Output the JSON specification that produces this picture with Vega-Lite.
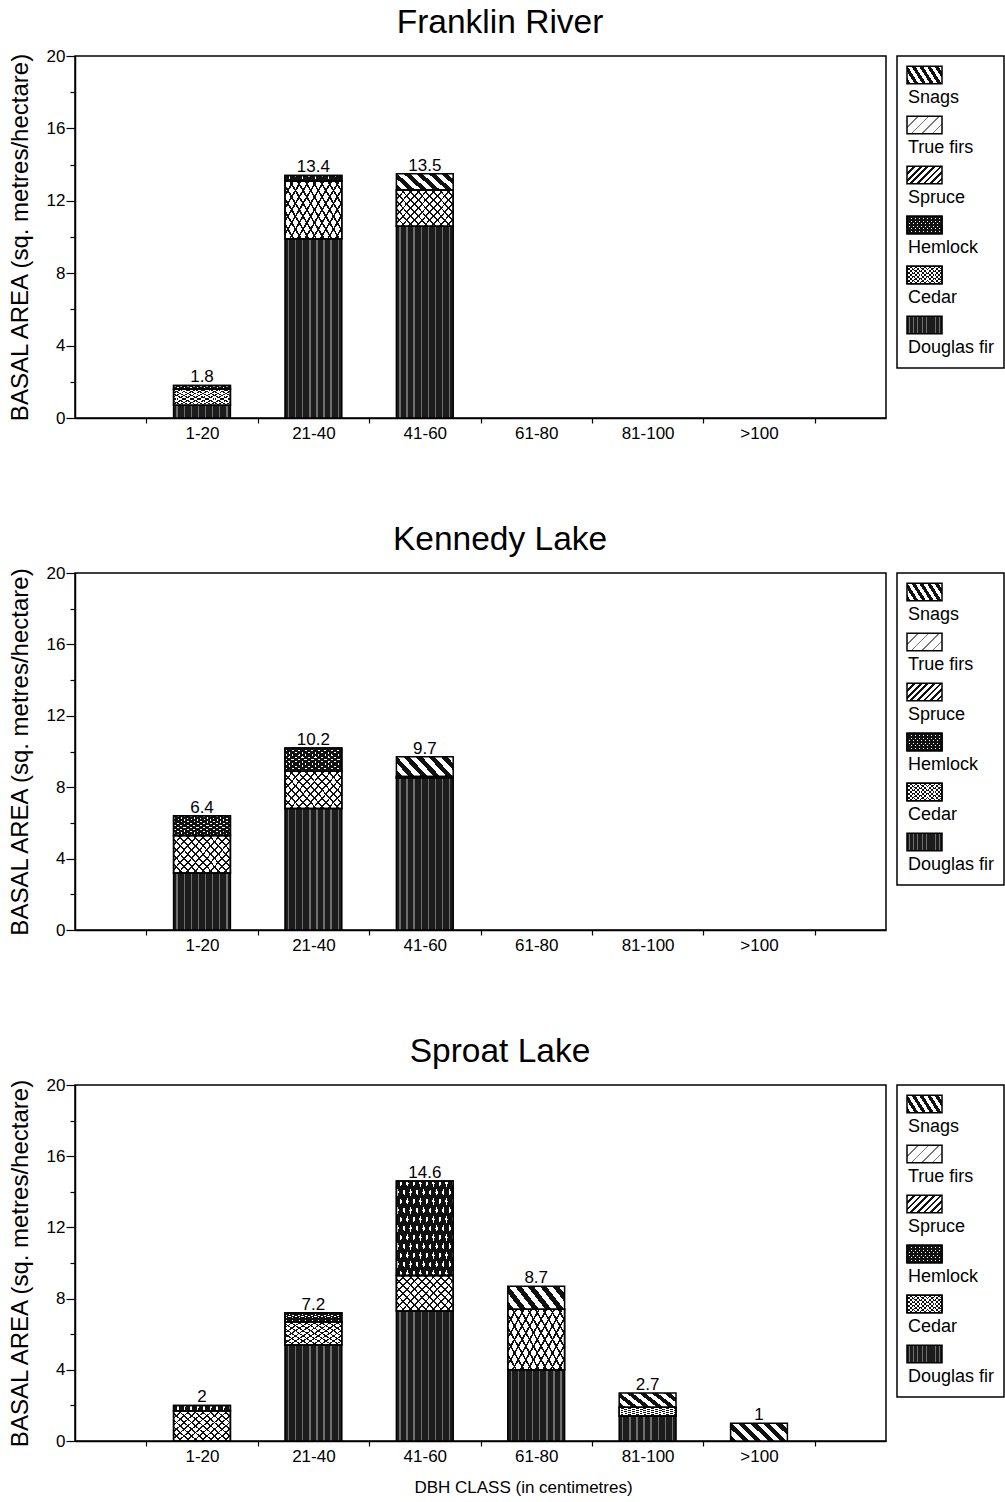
{
  "$schema": "https://vega.github.io/schema/vega-lite/v6.json",
  "padding": {"left": 7, "top": 5, "right": 0, "bottom": 0},
  "background": "white",
  "params": [
    {"name": "snagsFill", "value": {"gradient": "linear", "x1": 0, "y1": 1, "x2": 1.2, "y2": 0.62, "stops": [
      {"offset": 0, "color": "#111"}, {"offset": 0.0833, "color": "#111"}, {"offset": 0.0833, "color": "#fff"}, {"offset": 0.1667, "color": "#fff"},
      {"offset": 0.1667, "color": "#111"}, {"offset": 0.25, "color": "#111"}, {"offset": 0.25, "color": "#fff"}, {"offset": 0.3333, "color": "#fff"},
      {"offset": 0.3333, "color": "#111"}, {"offset": 0.4167, "color": "#111"}, {"offset": 0.4167, "color": "#fff"}, {"offset": 0.5, "color": "#fff"},
      {"offset": 0.5, "color": "#111"}, {"offset": 0.5833, "color": "#111"}, {"offset": 0.5833, "color": "#fff"}, {"offset": 0.6667, "color": "#fff"},
      {"offset": 0.6667, "color": "#111"}, {"offset": 0.75, "color": "#111"}, {"offset": 0.75, "color": "#fff"}, {"offset": 0.8333, "color": "#fff"},
      {"offset": 0.8333, "color": "#111"}, {"offset": 0.9167, "color": "#111"}, {"offset": 0.9167, "color": "#fff"}, {"offset": 1, "color": "#fff"}]}},
    {"name": "cedarFill", "value": {"gradient": "linear", "x1": 0, "y1": 1, "x2": 1.18, "y2": 0.29, "stops": [
      {"offset": 0, "color": "#111"}, {"offset": 0.02, "color": "#111"}, {"offset": 0.02, "color": "#fff"}, {"offset": 0.0833, "color": "#fff"},
      {"offset": 0.0833, "color": "#111"}, {"offset": 0.1033, "color": "#111"}, {"offset": 0.1033, "color": "#fff"}, {"offset": 0.1667, "color": "#fff"},
      {"offset": 0.1667, "color": "#111"}, {"offset": 0.1867, "color": "#111"}, {"offset": 0.1867, "color": "#fff"}, {"offset": 0.25, "color": "#fff"},
      {"offset": 0.25, "color": "#111"}, {"offset": 0.27, "color": "#111"}, {"offset": 0.27, "color": "#fff"}, {"offset": 0.3333, "color": "#fff"},
      {"offset": 0.3333, "color": "#111"}, {"offset": 0.3533, "color": "#111"}, {"offset": 0.3533, "color": "#fff"}, {"offset": 0.4167, "color": "#fff"},
      {"offset": 0.4167, "color": "#111"}, {"offset": 0.4367, "color": "#111"}, {"offset": 0.4367, "color": "#fff"}, {"offset": 0.5, "color": "#fff"},
      {"offset": 0.5, "color": "#111"}, {"offset": 0.52, "color": "#111"}, {"offset": 0.52, "color": "#fff"}, {"offset": 0.5833, "color": "#fff"},
      {"offset": 0.5833, "color": "#111"}, {"offset": 0.6033, "color": "#111"}, {"offset": 0.6033, "color": "#fff"}, {"offset": 0.6667, "color": "#fff"},
      {"offset": 0.6667, "color": "#111"}, {"offset": 0.6867, "color": "#111"}, {"offset": 0.6867, "color": "#fff"}, {"offset": 0.75, "color": "#fff"},
      {"offset": 0.75, "color": "#111"}, {"offset": 0.77, "color": "#111"}, {"offset": 0.77, "color": "#fff"}, {"offset": 0.8333, "color": "#fff"},
      {"offset": 0.8333, "color": "#111"}, {"offset": 0.8533, "color": "#111"}, {"offset": 0.8533, "color": "#fff"}, {"offset": 0.9167, "color": "#fff"},
      {"offset": 0.9167, "color": "#111"}, {"offset": 0.9367, "color": "#111"}, {"offset": 0.9367, "color": "#fff"}, {"offset": 1, "color": "#fff"}]}},
    {"name": "cedarHatch", "value": {"gradient": "linear", "x1": 0, "y1": 0, "x2": 1.18, "y2": 0.71, "stops": [
      {"offset": 0, "color": "#111"}, {"offset": 0.02, "color": "#111"}, {"offset": 0.02, "color": "rgba(255,255,255,0)"}, {"offset": 0.0833, "color": "rgba(255,255,255,0)"},
      {"offset": 0.0833, "color": "#111"}, {"offset": 0.1033, "color": "#111"}, {"offset": 0.1033, "color": "rgba(255,255,255,0)"}, {"offset": 0.1667, "color": "rgba(255,255,255,0)"},
      {"offset": 0.1667, "color": "#111"}, {"offset": 0.1867, "color": "#111"}, {"offset": 0.1867, "color": "rgba(255,255,255,0)"}, {"offset": 0.25, "color": "rgba(255,255,255,0)"},
      {"offset": 0.25, "color": "#111"}, {"offset": 0.27, "color": "#111"}, {"offset": 0.27, "color": "rgba(255,255,255,0)"}, {"offset": 0.3333, "color": "rgba(255,255,255,0)"},
      {"offset": 0.3333, "color": "#111"}, {"offset": 0.3533, "color": "#111"}, {"offset": 0.3533, "color": "rgba(255,255,255,0)"}, {"offset": 0.4167, "color": "rgba(255,255,255,0)"},
      {"offset": 0.4167, "color": "#111"}, {"offset": 0.4367, "color": "#111"}, {"offset": 0.4367, "color": "rgba(255,255,255,0)"}, {"offset": 0.5, "color": "rgba(255,255,255,0)"},
      {"offset": 0.5, "color": "#111"}, {"offset": 0.52, "color": "#111"}, {"offset": 0.52, "color": "rgba(255,255,255,0)"}, {"offset": 0.5833, "color": "rgba(255,255,255,0)"},
      {"offset": 0.5833, "color": "#111"}, {"offset": 0.6033, "color": "#111"}, {"offset": 0.6033, "color": "rgba(255,255,255,0)"}, {"offset": 0.6667, "color": "rgba(255,255,255,0)"},
      {"offset": 0.6667, "color": "#111"}, {"offset": 0.6867, "color": "#111"}, {"offset": 0.6867, "color": "rgba(255,255,255,0)"}, {"offset": 0.75, "color": "rgba(255,255,255,0)"},
      {"offset": 0.75, "color": "#111"}, {"offset": 0.77, "color": "#111"}, {"offset": 0.77, "color": "rgba(255,255,255,0)"}, {"offset": 0.8333, "color": "rgba(255,255,255,0)"},
      {"offset": 0.8333, "color": "#111"}, {"offset": 0.8533, "color": "#111"}, {"offset": 0.8533, "color": "rgba(255,255,255,0)"}, {"offset": 0.9167, "color": "rgba(255,255,255,0)"},
      {"offset": 0.9167, "color": "#111"}, {"offset": 0.9367, "color": "#111"}, {"offset": 0.9367, "color": "rgba(255,255,255,0)"}, {"offset": 1, "color": "rgba(255,255,255,0)"}]}},
    {"name": "hemlockFill", "value": {"gradient": "linear", "x1": 0, "y1": 1, "x2": 1.18, "y2": 0.29, "stops": [
      {"offset": 0, "color": "#111"}, {"offset": 0.043, "color": "#111"}, {"offset": 0.043, "color": "#fff"}, {"offset": 0.0714, "color": "#fff"},
      {"offset": 0.0714, "color": "#111"}, {"offset": 0.1144, "color": "#111"}, {"offset": 0.1144, "color": "#fff"}, {"offset": 0.1429, "color": "#fff"},
      {"offset": 0.1429, "color": "#111"}, {"offset": 0.1859, "color": "#111"}, {"offset": 0.1859, "color": "#fff"}, {"offset": 0.2143, "color": "#fff"},
      {"offset": 0.2143, "color": "#111"}, {"offset": 0.2573, "color": "#111"}, {"offset": 0.2573, "color": "#fff"}, {"offset": 0.2857, "color": "#fff"},
      {"offset": 0.2857, "color": "#111"}, {"offset": 0.3287, "color": "#111"}, {"offset": 0.3287, "color": "#fff"}, {"offset": 0.3571, "color": "#fff"},
      {"offset": 0.3571, "color": "#111"}, {"offset": 0.4001, "color": "#111"}, {"offset": 0.4001, "color": "#fff"}, {"offset": 0.4286, "color": "#fff"},
      {"offset": 0.4286, "color": "#111"}, {"offset": 0.4716, "color": "#111"}, {"offset": 0.4716, "color": "#fff"}, {"offset": 0.5, "color": "#fff"},
      {"offset": 0.5, "color": "#111"}, {"offset": 0.543, "color": "#111"}, {"offset": 0.543, "color": "#fff"}, {"offset": 0.5714, "color": "#fff"},
      {"offset": 0.5714, "color": "#111"}, {"offset": 0.6144, "color": "#111"}, {"offset": 0.6144, "color": "#fff"}, {"offset": 0.6429, "color": "#fff"},
      {"offset": 0.6429, "color": "#111"}, {"offset": 0.6859, "color": "#111"}, {"offset": 0.6859, "color": "#fff"}, {"offset": 0.7143, "color": "#fff"},
      {"offset": 0.7143, "color": "#111"}, {"offset": 0.7573, "color": "#111"}, {"offset": 0.7573, "color": "#fff"}, {"offset": 0.7857, "color": "#fff"},
      {"offset": 0.7857, "color": "#111"}, {"offset": 0.8287, "color": "#111"}, {"offset": 0.8287, "color": "#fff"}, {"offset": 0.8571, "color": "#fff"},
      {"offset": 0.8571, "color": "#111"}, {"offset": 0.9001, "color": "#111"}, {"offset": 0.9001, "color": "#fff"}, {"offset": 0.9286, "color": "#fff"},
      {"offset": 0.9286, "color": "#111"}, {"offset": 0.9716, "color": "#111"}, {"offset": 0.9716, "color": "#fff"}, {"offset": 1, "color": "#fff"}]}},
    {"name": "hemlockHatch", "value": {"gradient": "linear", "x1": 0, "y1": 0, "x2": 1.18, "y2": 0.71, "stops": [
      {"offset": 0, "color": "#111"}, {"offset": 0.043, "color": "#111"}, {"offset": 0.043, "color": "rgba(255,255,255,0)"}, {"offset": 0.0714, "color": "rgba(255,255,255,0)"},
      {"offset": 0.0714, "color": "#111"}, {"offset": 0.1144, "color": "#111"}, {"offset": 0.1144, "color": "rgba(255,255,255,0)"}, {"offset": 0.1429, "color": "rgba(255,255,255,0)"},
      {"offset": 0.1429, "color": "#111"}, {"offset": 0.1859, "color": "#111"}, {"offset": 0.1859, "color": "rgba(255,255,255,0)"}, {"offset": 0.2143, "color": "rgba(255,255,255,0)"},
      {"offset": 0.2143, "color": "#111"}, {"offset": 0.2573, "color": "#111"}, {"offset": 0.2573, "color": "rgba(255,255,255,0)"}, {"offset": 0.2857, "color": "rgba(255,255,255,0)"},
      {"offset": 0.2857, "color": "#111"}, {"offset": 0.3287, "color": "#111"}, {"offset": 0.3287, "color": "rgba(255,255,255,0)"}, {"offset": 0.3571, "color": "rgba(255,255,255,0)"},
      {"offset": 0.3571, "color": "#111"}, {"offset": 0.4001, "color": "#111"}, {"offset": 0.4001, "color": "rgba(255,255,255,0)"}, {"offset": 0.4286, "color": "rgba(255,255,255,0)"},
      {"offset": 0.4286, "color": "#111"}, {"offset": 0.4716, "color": "#111"}, {"offset": 0.4716, "color": "rgba(255,255,255,0)"}, {"offset": 0.5, "color": "rgba(255,255,255,0)"},
      {"offset": 0.5, "color": "#111"}, {"offset": 0.543, "color": "#111"}, {"offset": 0.543, "color": "rgba(255,255,255,0)"}, {"offset": 0.5714, "color": "rgba(255,255,255,0)"},
      {"offset": 0.5714, "color": "#111"}, {"offset": 0.6144, "color": "#111"}, {"offset": 0.6144, "color": "rgba(255,255,255,0)"}, {"offset": 0.6429, "color": "rgba(255,255,255,0)"},
      {"offset": 0.6429, "color": "#111"}, {"offset": 0.6859, "color": "#111"}, {"offset": 0.6859, "color": "rgba(255,255,255,0)"}, {"offset": 0.7143, "color": "rgba(255,255,255,0)"},
      {"offset": 0.7143, "color": "#111"}, {"offset": 0.7573, "color": "#111"}, {"offset": 0.7573, "color": "rgba(255,255,255,0)"}, {"offset": 0.7857, "color": "rgba(255,255,255,0)"},
      {"offset": 0.7857, "color": "#111"}, {"offset": 0.8287, "color": "#111"}, {"offset": 0.8287, "color": "rgba(255,255,255,0)"}, {"offset": 0.8571, "color": "rgba(255,255,255,0)"},
      {"offset": 0.8571, "color": "#111"}, {"offset": 0.9001, "color": "#111"}, {"offset": 0.9001, "color": "rgba(255,255,255,0)"}, {"offset": 0.9286, "color": "rgba(255,255,255,0)"},
      {"offset": 0.9286, "color": "#111"}, {"offset": 0.9716, "color": "#111"}, {"offset": 0.9716, "color": "rgba(255,255,255,0)"}, {"offset": 1, "color": "rgba(255,255,255,0)"}]}},
    {"name": "douglasFill", "value": {"gradient": "linear", "x1": 0, "y1": 0, "x2": 1, "y2": 0, "stops": [
      {"offset": 0, "color": "#1c1c1c"}, {"offset": 0.05, "color": "#1c1c1c"}, {"offset": 0.05, "color": "#6e6e6e"}, {"offset": 0.075, "color": "#6e6e6e"},
      {"offset": 0.075, "color": "#1c1c1c"}, {"offset": 0.175, "color": "#1c1c1c"}, {"offset": 0.175, "color": "#6e6e6e"}, {"offset": 0.2, "color": "#6e6e6e"},
      {"offset": 0.2, "color": "#1c1c1c"}, {"offset": 0.3, "color": "#1c1c1c"}, {"offset": 0.3, "color": "#6e6e6e"}, {"offset": 0.325, "color": "#6e6e6e"},
      {"offset": 0.325, "color": "#1c1c1c"}, {"offset": 0.425, "color": "#1c1c1c"}, {"offset": 0.425, "color": "#6e6e6e"}, {"offset": 0.45, "color": "#6e6e6e"},
      {"offset": 0.45, "color": "#1c1c1c"}, {"offset": 0.55, "color": "#1c1c1c"}, {"offset": 0.55, "color": "#6e6e6e"}, {"offset": 0.575, "color": "#6e6e6e"},
      {"offset": 0.575, "color": "#1c1c1c"}, {"offset": 0.675, "color": "#1c1c1c"}, {"offset": 0.675, "color": "#6e6e6e"}, {"offset": 0.7, "color": "#6e6e6e"},
      {"offset": 0.7, "color": "#1c1c1c"}, {"offset": 0.8, "color": "#1c1c1c"}, {"offset": 0.8, "color": "#6e6e6e"}, {"offset": 0.825, "color": "#6e6e6e"},
      {"offset": 0.825, "color": "#1c1c1c"}, {"offset": 0.925, "color": "#1c1c1c"}, {"offset": 0.925, "color": "#6e6e6e"}, {"offset": 0.95, "color": "#6e6e6e"},
      {"offset": 0.95, "color": "#1c1c1c"}, {"offset": 1, "color": "#1c1c1c"}]}},
    {"name": "spruceFill", "value": {"gradient": "linear", "x1": 0, "y1": 0, "x2": 1.2, "y2": 0.6, "stops": [
      {"offset": 0, "color": "#111"}, {"offset": 0.05, "color": "#111"}, {"offset": 0.05, "color": "#fff"}, {"offset": 0.125, "color": "#fff"},
      {"offset": 0.125, "color": "#111"}, {"offset": 0.175, "color": "#111"}, {"offset": 0.175, "color": "#fff"}, {"offset": 0.25, "color": "#fff"},
      {"offset": 0.25, "color": "#111"}, {"offset": 0.3, "color": "#111"}, {"offset": 0.3, "color": "#fff"}, {"offset": 0.375, "color": "#fff"},
      {"offset": 0.375, "color": "#111"}, {"offset": 0.425, "color": "#111"}, {"offset": 0.425, "color": "#fff"}, {"offset": 0.5, "color": "#fff"},
      {"offset": 0.5, "color": "#111"}, {"offset": 0.55, "color": "#111"}, {"offset": 0.55, "color": "#fff"}, {"offset": 0.625, "color": "#fff"},
      {"offset": 0.625, "color": "#111"}, {"offset": 0.675, "color": "#111"}, {"offset": 0.675, "color": "#fff"}, {"offset": 0.75, "color": "#fff"},
      {"offset": 0.75, "color": "#111"}, {"offset": 0.8, "color": "#111"}, {"offset": 0.8, "color": "#fff"}, {"offset": 0.875, "color": "#fff"},
      {"offset": 0.875, "color": "#111"}, {"offset": 0.925, "color": "#111"}, {"offset": 0.925, "color": "#fff"}, {"offset": 1, "color": "#fff"}]}},
    {"name": "trueFirsFill", "value": {"gradient": "linear", "x1": 0, "y1": 0, "x2": 1.2, "y2": 0.6, "stops": [
      {"offset": 0, "color": "#777"}, {"offset": 0.03, "color": "#777"}, {"offset": 0.03, "color": "#fff"}, {"offset": 0.2, "color": "#fff"},
      {"offset": 0.2, "color": "#777"}, {"offset": 0.23, "color": "#777"}, {"offset": 0.23, "color": "#fff"}, {"offset": 0.4, "color": "#fff"},
      {"offset": 0.4, "color": "#777"}, {"offset": 0.43, "color": "#777"}, {"offset": 0.43, "color": "#fff"}, {"offset": 0.6, "color": "#fff"},
      {"offset": 0.6, "color": "#777"}, {"offset": 0.63, "color": "#777"}, {"offset": 0.63, "color": "#fff"}, {"offset": 0.8, "color": "#fff"},
      {"offset": 0.8, "color": "#777"}, {"offset": 0.83, "color": "#777"}, {"offset": 0.83, "color": "#fff"}, {"offset": 1, "color": "#fff"}]}}
  ],
  "datasets": {
    "stands": [
      {"site": "Franklin River", "dbh": "1-20", "species": "Douglas fir", "value": 0.7},
      {"site": "Franklin River", "dbh": "1-20", "species": "Cedar", "value": 0.9},
      {"site": "Franklin River", "dbh": "1-20", "species": "Hemlock", "value": 0.2},
      {"site": "Franklin River", "dbh": "21-40", "species": "Douglas fir", "value": 9.9},
      {"site": "Franklin River", "dbh": "21-40", "species": "Cedar", "value": 3.2},
      {"site": "Franklin River", "dbh": "21-40", "species": "Hemlock", "value": 0.3},
      {"site": "Franklin River", "dbh": "41-60", "species": "Douglas fir", "value": 10.6},
      {"site": "Franklin River", "dbh": "41-60", "species": "Cedar", "value": 2.0},
      {"site": "Franklin River", "dbh": "41-60", "species": "Snags", "value": 0.9},
      {"site": "Kennedy Lake", "dbh": "1-20", "species": "Douglas fir", "value": 3.2},
      {"site": "Kennedy Lake", "dbh": "1-20", "species": "Cedar", "value": 2.1},
      {"site": "Kennedy Lake", "dbh": "1-20", "species": "Hemlock", "value": 1.1},
      {"site": "Kennedy Lake", "dbh": "21-40", "species": "Douglas fir", "value": 6.8},
      {"site": "Kennedy Lake", "dbh": "21-40", "species": "Cedar", "value": 2.1},
      {"site": "Kennedy Lake", "dbh": "21-40", "species": "Hemlock", "value": 1.3},
      {"site": "Kennedy Lake", "dbh": "41-60", "species": "Douglas fir", "value": 8.5},
      {"site": "Kennedy Lake", "dbh": "41-60", "species": "Cedar", "value": 0.1},
      {"site": "Kennedy Lake", "dbh": "41-60", "species": "Snags", "value": 1.1},
      {"site": "Sproat Lake", "dbh": "1-20", "species": "Cedar", "value": 1.7},
      {"site": "Sproat Lake", "dbh": "1-20", "species": "Hemlock", "value": 0.3},
      {"site": "Sproat Lake", "dbh": "21-40", "species": "Douglas fir", "value": 5.4},
      {"site": "Sproat Lake", "dbh": "21-40", "species": "Cedar", "value": 1.3},
      {"site": "Sproat Lake", "dbh": "21-40", "species": "Hemlock", "value": 0.5},
      {"site": "Sproat Lake", "dbh": "41-60", "species": "Douglas fir", "value": 7.3},
      {"site": "Sproat Lake", "dbh": "41-60", "species": "Cedar", "value": 2.0},
      {"site": "Sproat Lake", "dbh": "41-60", "species": "Hemlock", "value": 5.3},
      {"site": "Sproat Lake", "dbh": "61-80", "species": "Douglas fir", "value": 4.0},
      {"site": "Sproat Lake", "dbh": "61-80", "species": "Cedar", "value": 3.4},
      {"site": "Sproat Lake", "dbh": "61-80", "species": "Snags", "value": 1.3},
      {"site": "Sproat Lake", "dbh": "81-100", "species": "Douglas fir", "value": 1.4},
      {"site": "Sproat Lake", "dbh": "81-100", "species": "Cedar", "value": 0.5},
      {"site": "Sproat Lake", "dbh": "81-100", "species": "Snags", "value": 0.8},
      {"site": "Sproat Lake", "dbh": ">100", "species": "Snags", "value": 1.0}
    ],
    "keys": [
      {"species": "Snags"},
      {"species": "True firs"},
      {"species": "Spruce"},
      {"species": "Hemlock"},
      {"species": "Cedar"},
      {"species": "Douglas fir"}
    ]
  },
  "config": {
    "font": "Liberation Sans",
    "view": {"stroke": "black", "strokeWidth": 1.5},
    "axis": {"domainColor": "black", "domainWidth": 1.5, "tickColor": "black", "tickWidth": 1.2, "labelColor": "black", "labelFont": "Liberation Sans", "labelFontSize": 17, "titleFont": "Liberation Sans", "titleFontWeight": "normal", "titleColor": "black", "grid": false},
    "title": {"font": "Liberation Sans", "fontSize": 33.5, "fontWeight": "normal", "color": "black", "anchor": "middle", "offset": 6, "dx": -6},
    "text": {"font": "Liberation Sans", "color": "black"}
  },
  "spacing": 80,
  "vconcat": [
    {
      "title": {"text": "Franklin River"},
      "spacing": 9,
      "hconcat": [
        {
          "width": 811, "height": 362,
          "data": {"name": "stands"},
          "transform": [
            {"filter": "datum.site === 'Franklin River'"},
            {"calculate": "indexof(['Douglas fir', 'Cedar', 'Hemlock', 'Spruce', 'True firs', 'Snags'], datum.species)", "as": "layerOrder"},
            {"stack": "value", "groupby": ["dbh"], "sort": [{"field": "layerOrder"}], "as": ["y0", "y1"]}
          ],
          "encoding": {
            "x": {"field": "dbh", "type": "nominal", "scale": {"domain": ["1-20", "21-40", "41-60", "61-80", "81-100", ">100"], "paddingInner": 0, "paddingOuter": 0.64}, "axis": {"title": null, "labelAngle": 0, "tickBand": "extent", "tickSize": 5, "labelPadding": 2}},
            "y": {"field": "y1", "type": "quantitative", "scale": {"domain": [0, 20], "nice": false}, "axis": {"title": "BASAL AREA (sq. metres/hectare)", "titleFontSize": 24, "titlePadding": 14, "values": [0, 2, 4, 6, 8, 10, 12, 14, 16, 18, 20], "labelExpr": "datum.value % 4 === 0 ? datum.label : ''", "tickSize": {"condition": {"test": "datum.value % 4 === 0", "value": 9}, "value": 5}, "labelPadding": 1}}
          },
          "layer": [
            {
              "mark": {"type": "bar", "width": {"band": 0.51}, "stroke": "black", "strokeWidth": 1.5},
              "encoding": {
                "y2": {"field": "y0"},
                "fill": {"condition": [
                  {"test": "datum.species === 'Snags'", "value": {"expr": "snagsFill"}},
                  {"test": "datum.species === 'True firs'", "value": {"expr": "trueFirsFill"}},
                  {"test": "datum.species === 'Spruce'", "value": {"expr": "spruceFill"}},
                  {"test": "datum.species === 'Hemlock'", "value": {"expr": "hemlockFill"}},
                  {"test": "datum.species === 'Cedar'", "value": {"expr": "cedarFill"}}
                ], "value": {"expr": "douglasFill"}}
              }
            },
            {
              "transform": [{"filter": "datum.species === 'Cedar' || datum.species === 'Hemlock'"}],
              "mark": {"type": "bar", "width": {"band": 0.51}, "stroke": "black", "strokeWidth": 1.5},
              "encoding": {
                "y2": {"field": "y0"},
                "fill": {"condition": {"test": "datum.species === 'Cedar'", "value": {"expr": "cedarHatch"}}, "value": {"expr": "hemlockHatch"}}
              }
            },
            {
              "transform": [{"aggregate": [{"op": "max", "field": "y1", "as": "y1"}, {"op": "sum", "field": "value", "as": "total"}], "groupby": ["dbh"]}],
              "mark": {"type": "text", "baseline": "alphabetic", "dy": -3, "fontSize": 17},
              "encoding": {"text": {"field": "total", "type": "quantitative", "format": ".1~f"}}
            }
          ]
        },
        {
          "width": 107, "height": 312,
          "data": {"name": "keys"},
          "encoding": {"y": {"field": "species", "type": "nominal", "scale": {"type": "point", "domain": ["Snags", "True firs", "Spruce", "Hemlock", "Cedar", "Douglas fir"], "range": [19, 269], "padding": 0}, "axis": null}},
          "layer": [
            {
              "mark": {"type": "point", "filled": true, "shape": "M-1,-0.5H1V0.5H-1Z", "size": 1225, "stroke": "black", "strokeWidth": 1.5, "opacity": 1},
              "encoding": {
                "x": {"value": 27.5},
                "fill": {"condition": [
                  {"test": "datum.species === 'Snags'", "value": {"expr": "snagsFill"}},
                  {"test": "datum.species === 'True firs'", "value": {"expr": "trueFirsFill"}},
                  {"test": "datum.species === 'Spruce'", "value": {"expr": "spruceFill"}},
                  {"test": "datum.species === 'Hemlock'", "value": {"expr": "hemlockFill"}},
                  {"test": "datum.species === 'Cedar'", "value": {"expr": "cedarFill"}}
                ], "value": {"expr": "douglasFill"}}
              }
            },
            {
              "transform": [{"filter": "datum.species === 'Cedar' || datum.species === 'Hemlock'"}],
              "mark": {"type": "point", "filled": true, "shape": "M-1,-0.5H1V0.5H-1Z", "size": 1225, "stroke": "black", "strokeWidth": 1.5, "opacity": 1},
              "encoding": {
                "x": {"value": 27.5},
                "fill": {"condition": {"test": "datum.species === 'Cedar'", "value": {"expr": "cedarHatch"}}, "value": {"expr": "hemlockHatch"}}
              }
            },
            {
              "mark": {"type": "text", "align": "left", "baseline": "middle", "fontSize": 18, "dy": 23},
              "encoding": {"x": {"value": 11}, "text": {"field": "species"}}
            }
          ]
        }
      ]
    },
    {
      "title": {"text": "Kennedy Lake"},
      "spacing": 9,
      "hconcat": [
        {
          "width": 811, "height": 357,
          "data": {"name": "stands"},
          "transform": [
            {"filter": "datum.site === 'Kennedy Lake'"},
            {"calculate": "indexof(['Douglas fir', 'Cedar', 'Hemlock', 'Spruce', 'True firs', 'Snags'], datum.species)", "as": "layerOrder"},
            {"stack": "value", "groupby": ["dbh"], "sort": [{"field": "layerOrder"}], "as": ["y0", "y1"]}
          ],
          "encoding": {
            "x": {"field": "dbh", "type": "nominal", "scale": {"domain": ["1-20", "21-40", "41-60", "61-80", "81-100", ">100"], "paddingInner": 0, "paddingOuter": 0.64}, "axis": {"title": null, "labelAngle": 0, "tickBand": "extent", "tickSize": 5, "labelPadding": 2}},
            "y": {"field": "y1", "type": "quantitative", "scale": {"domain": [0, 20], "nice": false}, "axis": {"title": "BASAL AREA (sq. metres/hectare)", "titleFontSize": 24, "titlePadding": 14, "values": [0, 2, 4, 6, 8, 10, 12, 14, 16, 18, 20], "labelExpr": "datum.value % 4 === 0 ? datum.label : ''", "tickSize": {"condition": {"test": "datum.value % 4 === 0", "value": 9}, "value": 5}, "labelPadding": 1}}
          },
          "layer": [
            {
              "mark": {"type": "bar", "width": {"band": 0.51}, "stroke": "black", "strokeWidth": 1.5},
              "encoding": {
                "y2": {"field": "y0"},
                "fill": {"condition": [
                  {"test": "datum.species === 'Snags'", "value": {"expr": "snagsFill"}},
                  {"test": "datum.species === 'True firs'", "value": {"expr": "trueFirsFill"}},
                  {"test": "datum.species === 'Spruce'", "value": {"expr": "spruceFill"}},
                  {"test": "datum.species === 'Hemlock'", "value": {"expr": "hemlockFill"}},
                  {"test": "datum.species === 'Cedar'", "value": {"expr": "cedarFill"}}
                ], "value": {"expr": "douglasFill"}}
              }
            },
            {
              "transform": [{"filter": "datum.species === 'Cedar' || datum.species === 'Hemlock'"}],
              "mark": {"type": "bar", "width": {"band": 0.51}, "stroke": "black", "strokeWidth": 1.5},
              "encoding": {
                "y2": {"field": "y0"},
                "fill": {"condition": {"test": "datum.species === 'Cedar'", "value": {"expr": "cedarHatch"}}, "value": {"expr": "hemlockHatch"}}
              }
            },
            {
              "transform": [{"aggregate": [{"op": "max", "field": "y1", "as": "y1"}, {"op": "sum", "field": "value", "as": "total"}], "groupby": ["dbh"]}],
              "mark": {"type": "text", "baseline": "alphabetic", "dy": -3, "fontSize": 17},
              "encoding": {"text": {"field": "total", "type": "quantitative", "format": ".1~f"}}
            }
          ]
        },
        {
          "width": 107, "height": 312,
          "data": {"name": "keys"},
          "encoding": {"y": {"field": "species", "type": "nominal", "scale": {"type": "point", "domain": ["Snags", "True firs", "Spruce", "Hemlock", "Cedar", "Douglas fir"], "range": [19, 269], "padding": 0}, "axis": null}},
          "layer": [
            {
              "mark": {"type": "point", "filled": true, "shape": "M-1,-0.5H1V0.5H-1Z", "size": 1225, "stroke": "black", "strokeWidth": 1.5, "opacity": 1},
              "encoding": {
                "x": {"value": 27.5},
                "fill": {"condition": [
                  {"test": "datum.species === 'Snags'", "value": {"expr": "snagsFill"}},
                  {"test": "datum.species === 'True firs'", "value": {"expr": "trueFirsFill"}},
                  {"test": "datum.species === 'Spruce'", "value": {"expr": "spruceFill"}},
                  {"test": "datum.species === 'Hemlock'", "value": {"expr": "hemlockFill"}},
                  {"test": "datum.species === 'Cedar'", "value": {"expr": "cedarFill"}}
                ], "value": {"expr": "douglasFill"}}
              }
            },
            {
              "transform": [{"filter": "datum.species === 'Cedar' || datum.species === 'Hemlock'"}],
              "mark": {"type": "point", "filled": true, "shape": "M-1,-0.5H1V0.5H-1Z", "size": 1225, "stroke": "black", "strokeWidth": 1.5, "opacity": 1},
              "encoding": {
                "x": {"value": 27.5},
                "fill": {"condition": {"test": "datum.species === 'Cedar'", "value": {"expr": "cedarHatch"}}, "value": {"expr": "hemlockHatch"}}
              }
            },
            {
              "mark": {"type": "text", "align": "left", "baseline": "middle", "fontSize": 18, "dy": 23},
              "encoding": {"x": {"value": 11}, "text": {"field": "species"}}
            }
          ]
        }
      ]
    },
    {
      "title": {"text": "Sproat Lake"},
      "spacing": 9,
      "hconcat": [
        {
          "width": 811, "height": 356,
          "data": {"name": "stands"},
          "transform": [
            {"filter": "datum.site === 'Sproat Lake'"},
            {"calculate": "indexof(['Douglas fir', 'Cedar', 'Hemlock', 'Spruce', 'True firs', 'Snags'], datum.species)", "as": "layerOrder"},
            {"stack": "value", "groupby": ["dbh"], "sort": [{"field": "layerOrder"}], "as": ["y0", "y1"]}
          ],
          "encoding": {
            "x": {"field": "dbh", "type": "nominal", "scale": {"domain": ["1-20", "21-40", "41-60", "61-80", "81-100", ">100"], "paddingInner": 0, "paddingOuter": 0.64}, "axis": {"title": "DBH CLASS (in centimetres)", "titleFontSize": 17, "titlePadding": 15, "titleX": 448, "labelAngle": 0, "tickBand": "extent", "tickSize": 5, "labelPadding": 2}},
            "y": {"field": "y1", "type": "quantitative", "scale": {"domain": [0, 20], "nice": false}, "axis": {"title": "BASAL AREA (sq. metres/hectare)", "titleFontSize": 24, "titlePadding": 14, "values": [0, 2, 4, 6, 8, 10, 12, 14, 16, 18, 20], "labelExpr": "datum.value % 4 === 0 ? datum.label : ''", "tickSize": {"condition": {"test": "datum.value % 4 === 0", "value": 9}, "value": 5}, "labelPadding": 1}}
          },
          "layer": [
            {
              "mark": {"type": "bar", "width": {"band": 0.51}, "stroke": "black", "strokeWidth": 1.5},
              "encoding": {
                "y2": {"field": "y0"},
                "fill": {"condition": [
                  {"test": "datum.species === 'Snags'", "value": {"expr": "snagsFill"}},
                  {"test": "datum.species === 'True firs'", "value": {"expr": "trueFirsFill"}},
                  {"test": "datum.species === 'Spruce'", "value": {"expr": "spruceFill"}},
                  {"test": "datum.species === 'Hemlock'", "value": {"expr": "hemlockFill"}},
                  {"test": "datum.species === 'Cedar'", "value": {"expr": "cedarFill"}}
                ], "value": {"expr": "douglasFill"}}
              }
            },
            {
              "transform": [{"filter": "datum.species === 'Cedar' || datum.species === 'Hemlock'"}],
              "mark": {"type": "bar", "width": {"band": 0.51}, "stroke": "black", "strokeWidth": 1.5},
              "encoding": {
                "y2": {"field": "y0"},
                "fill": {"condition": {"test": "datum.species === 'Cedar'", "value": {"expr": "cedarHatch"}}, "value": {"expr": "hemlockHatch"}}
              }
            },
            {
              "transform": [{"aggregate": [{"op": "max", "field": "y1", "as": "y1"}, {"op": "sum", "field": "value", "as": "total"}], "groupby": ["dbh"]}],
              "mark": {"type": "text", "baseline": "alphabetic", "dy": -3, "fontSize": 17},
              "encoding": {"text": {"field": "total", "type": "quantitative", "format": ".1~f"}}
            }
          ]
        },
        {
          "width": 107, "height": 312,
          "data": {"name": "keys"},
          "encoding": {"y": {"field": "species", "type": "nominal", "scale": {"type": "point", "domain": ["Snags", "True firs", "Spruce", "Hemlock", "Cedar", "Douglas fir"], "range": [19, 269], "padding": 0}, "axis": null}},
          "layer": [
            {
              "mark": {"type": "point", "filled": true, "shape": "M-1,-0.5H1V0.5H-1Z", "size": 1225, "stroke": "black", "strokeWidth": 1.5, "opacity": 1},
              "encoding": {
                "x": {"value": 27.5},
                "fill": {"condition": [
                  {"test": "datum.species === 'Snags'", "value": {"expr": "snagsFill"}},
                  {"test": "datum.species === 'True firs'", "value": {"expr": "trueFirsFill"}},
                  {"test": "datum.species === 'Spruce'", "value": {"expr": "spruceFill"}},
                  {"test": "datum.species === 'Hemlock'", "value": {"expr": "hemlockFill"}},
                  {"test": "datum.species === 'Cedar'", "value": {"expr": "cedarFill"}}
                ], "value": {"expr": "douglasFill"}}
              }
            },
            {
              "transform": [{"filter": "datum.species === 'Cedar' || datum.species === 'Hemlock'"}],
              "mark": {"type": "point", "filled": true, "shape": "M-1,-0.5H1V0.5H-1Z", "size": 1225, "stroke": "black", "strokeWidth": 1.5, "opacity": 1},
              "encoding": {
                "x": {"value": 27.5},
                "fill": {"condition": {"test": "datum.species === 'Cedar'", "value": {"expr": "cedarHatch"}}, "value": {"expr": "hemlockHatch"}}
              }
            },
            {
              "mark": {"type": "text", "align": "left", "baseline": "middle", "fontSize": 18, "dy": 23},
              "encoding": {"x": {"value": 11}, "text": {"field": "species"}}
            }
          ]
        }
      ]
    }
  ]
}
